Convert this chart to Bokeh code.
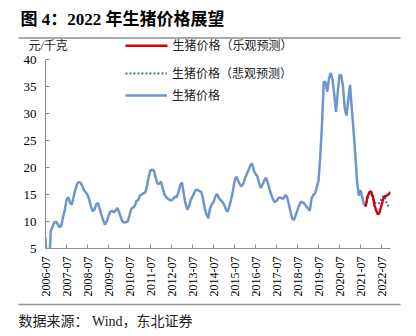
from bokeh.plotting import figure
from bokeh.layouts import column
from bokeh.models import Range1d, FixedTicker, Label, Legend, LegendItem
from bokeh.embed import file_html
from bokeh.resources import INLINE

# ---- data (monthly, index 0 = 2006-07) ----
TICK_LABELS = ["2006-07", "2007-07", "2008-07", "2009-07", "2010-07", "2011-07",
               "2012-07", "2013-07", "2014-07", "2015-07", "2016-07", "2017-07",
               "2018-07", "2019-07", "2020-07", "2021-07", "2022-07"]

price = [7.0, 1.0, 1.0, 8.3, 9.0, 9.8, 10.0, 9.5, 8.9, 9.2, 10.8, 12.0,
         14.0, 14.5, 13.5, 13.1, 14.5, 15.8, 16.9, 17.3, 17.2, 16.6, 15.8, 15.4,
         14.9, 14.0, 12.8, 11.9, 12.2, 13.2, 13.4, 12.3, 11.2, 10.2, 9.4, 10.0,
         11.0, 11.8, 12.0, 11.7, 12.0, 12.5, 11.8, 10.8, 10.0, 9.8, 9.9, 10.0,
         11.2, 12.3, 12.6, 12.9, 13.8, 14.0, 14.8, 15.0, 15.2, 15.4, 16.5, 18.3,
         19.5, 19.6, 19.4, 18.0, 17.0, 17.0, 17.4, 16.2, 15.0, 14.5, 14.2, 14.0,
         13.9, 14.2, 14.6, 14.5, 15.5, 16.8, 17.2, 15.2, 13.3, 12.2, 12.8, 14.0,
         14.6, 15.3, 15.9, 15.8, 15.6, 15.5, 14.2, 12.4, 11.3, 10.6, 12.4, 13.2,
         13.6, 14.6, 15.1, 14.4, 14.0, 13.6, 13.2, 12.3, 11.8, 12.8, 14.0, 15.5,
         17.4, 18.3, 17.6, 16.9, 16.5, 17.0, 18.0, 18.8, 19.5, 20.4, 20.8, 19.5,
         18.8, 18.4, 17.2, 16.2, 16.8, 17.6, 18.1, 17.2, 16.0, 15.0, 14.1, 13.6,
         13.8, 14.3, 14.5, 14.3, 14.2, 14.9, 14.6, 13.3, 11.8, 10.5, 10.3, 11.2,
         12.2, 13.0, 13.7, 13.5, 13.3, 12.8, 12.4, 12.0, 14.2, 14.9, 15.2, 16.3,
         17.6, 22.0, 28.0, 35.9, 35.8, 34.0, 36.5, 37.5, 36.3, 33.5, 30.3, 34.0,
         37.2, 37.0, 35.0, 31.0, 29.6, 32.5, 35.3, 31.0, 27.0, 22.5, 17.5, 14.8,
         15.8, 14.5, 13.2, 12.8]

forecast_start = 183
optimistic = [12.8, 14.6, 15.4, 15.6, 14.7, 13.0, 12.0, 11.3, 11.8, 13.0,
              14.2, 14.7, 14.8, 15.0, 15.5]
pessimistic = [12.8, 14.3, 15.0, 15.2, 14.5, 13.6, 13.3, 13.3, 13.5, 14.3,
               14.7, 14.6, 13.2, 12.9, 12.8]

LEGEND_LABELS = ["生猪价格（乐观预测）", "生猪价格（悲观预测）", "生猪价格"]
TITLE = "图 4：2022 年生猪价格展望"
UNIT = "元/千克"
SOURCE = "数据来源： Wind，东北证券"

BLUE = "#6E96CA"
DOT_BLUE = "#4472B4"
RED = "#D40000"
GRAY = "#8C8C8C"
RULE = "#8F8F8F"
MIXED = "Liberation Serif, Noto Sans CJK SC"
SERIF = "Liberation Serif"

W = 416
TOP_H = 52          # header strip (title, rule, unit, first legend key)
MAIN_H = 250        # main chart
BOT_H = 336 - TOP_H - MAIN_H
FL, FR = 45, 390    # frame left / right (px)
FT, FB = 59, 248    # frame top / bottom (absolute px)
Y0, Y1 = 5, 40
X_END = (FR - FL) / 1.75


def strip(h):
    f = figure(width=W, height=h, output_backend="svg", toolbar_location=None,
               x_axis_type=None, y_axis_type=None,
               x_range=Range1d(0, W), y_range=Range1d(h, 0),
               min_border=0, min_border_left=0, min_border_right=0,
               min_border_top=0, min_border_bottom=0, frame_align=False)
    f.grid.visible = False
    f.outline_line_color = None
    f.background_fill_color = "white"
    f.border_fill_color = "white"
    return f


# ---------- header ----------
top = strip(TOP_H)
top.add_layout(Label(x=20, y=19, text=TITLE, text_font=MIXED, text_font_size="17px",
                     text_font_style="bold", text_color="black",
                     text_baseline="middle", text_align="left"))
top.segment(x0=[18], y0=[37.5], x1=[400], y1=[37.5], line_color=RULE, line_width=1.5)
top.add_layout(Label(x=28, y=45, text=UNIT, text_font=MIXED, text_font_size="12px",
                     text_color="#222222", text_baseline="middle", text_align="left"))
# first legend key (optimistic forecast)
top.segment(x0=[125], y0=[45.3], x1=[167], y1=[45.3], line_color=RED, line_width=2.4)
top.add_layout(Label(x=172, y=45.3, text=LEGEND_LABELS[0], text_font=MIXED,
                     text_font_size="12px", text_color="#222222",
                     text_baseline="middle", text_align="left"))

# ---------- main chart ----------
p = figure(width=W, height=MAIN_H, output_backend="svg", toolbar_location=None,
           x_range=Range1d(0, X_END), y_range=Range1d(Y0, Y1),
           min_border_left=FL, min_border_right=W - FR,
           min_border_top=FT - TOP_H, min_border_bottom=TOP_H + MAIN_H - FB,
           frame_align=False)
p.outline_line_color = None
p.grid.visible = False
p.background_fill_color = "white"
p.border_fill_color = "white"

hx = list(range(len(price)))
fx = list(range(forecast_start, forecast_start + len(optimistic)))

r_his = p.line(hx, price, line_color=BLUE, line_width=2.5)
r_pes = p.line(fx, pessimistic, line_color=DOT_BLUE, line_width=2, line_dash="2 2")
r_opt = p.line(fx, optimistic, line_color=RED, line_width=2.4)

for ax in (p.xaxis[0], p.yaxis[0]):
    ax.axis_line_color = GRAY
    ax.major_tick_line_color = GRAY
    ax.minor_tick_line_color = None
    ax.major_tick_in = 4
    ax.major_tick_out = 0
    ax.major_label_text_color = "black"
    ax.major_label_text_font = SERIF

p.yaxis[0].ticker = FixedTicker(ticks=list(range(5, 41, 5)))
p.yaxis[0].major_label_text_font_size = "13px"
p.yaxis[0].major_label_standoff = 9

xt = [12 * i for i in range(len(TICK_LABELS))]
p.xaxis[0].ticker = FixedTicker(ticks=xt)
p.xaxis[0].major_label_overrides = {t: lab for t, lab in zip(xt, TICK_LABELS)}
p.xaxis[0].major_label_orientation = 1.5707963
p.xaxis[0].major_label_text_font_size = "12px"
p.xaxis[0].major_label_standoff = 8

frame_h = FB - FT
leg_top_local = (73 - 10) - FT
legend = Legend(items=[
    LegendItem(label=LEGEND_LABELS[1], renderers=[r_pes]),
    LegendItem(label=LEGEND_LABELS[2], renderers=[r_his]),
], location=(125 - FL, frame_h - leg_top_local - 42), orientation="vertical",
    glyph_width=42, glyph_height=20, label_height=20, spacing=2,
    label_standoff=5, padding=0, margin=0,
    border_line_alpha=0, background_fill_alpha=0,
    label_text_font=MIXED, label_text_font_size="12px", label_text_color="#222222")
p.add_layout(legend, "center")

# ---------- footer ----------
bot = strip(BOT_H)
bot.segment(x0=[18], y0=[2], x1=[400], y1=[2], line_color=RULE, line_width=1.5)
bot.add_layout(Label(x=18, y=19, text=SOURCE, text_font=MIXED, text_font_size="14px",
                     text_color="#222222", text_baseline="middle", text_align="left"))

layout = column(top, p, bot, spacing=0)
open("out.html", "w").write(file_html(layout, INLINE))
